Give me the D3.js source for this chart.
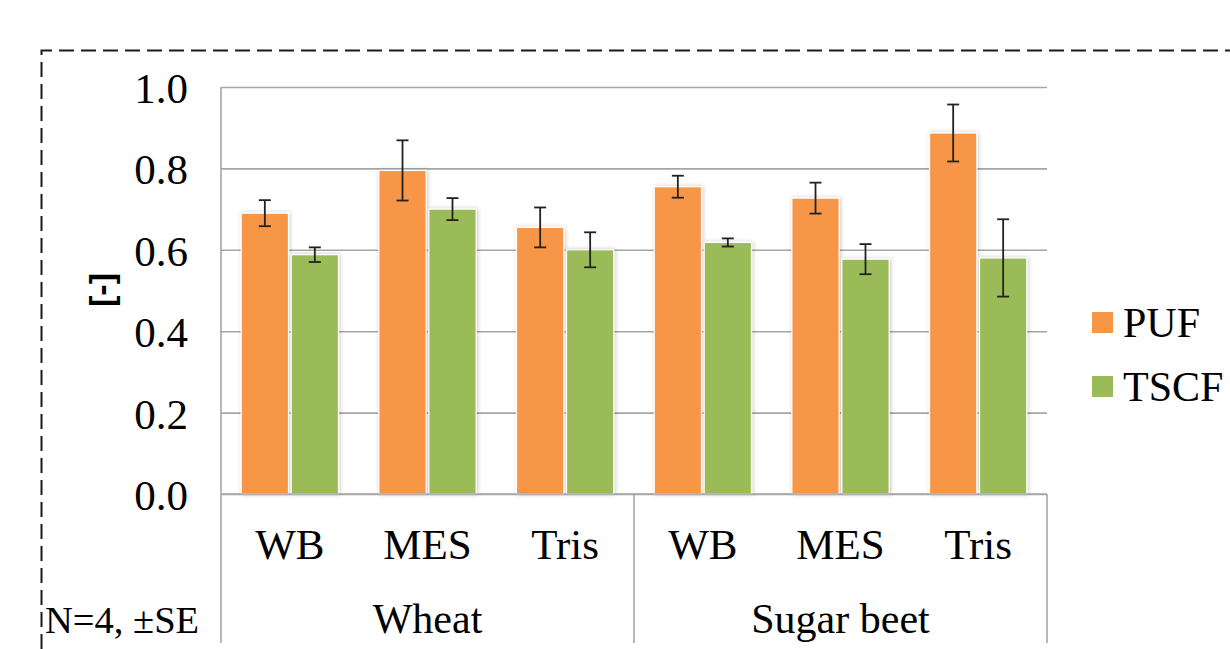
<!DOCTYPE html>
<html>
<head>
<meta charset="utf-8">
<script src="https://cdn.jsdelivr.net/npm/d3@7"></script>
<style>
  body { margin: 0; background: #fff; }
  svg { display: block; }
</style>
</head>
<body>
<svg id="chart" width="1230" height="649"></svg>
<script>
// chart data
var groups = ['Wheat', 'Sugar beet'];
var treatments = ['WB', 'MES', 'Tris'];
var seriesNames = ['PUF', 'TSCF'];
var seriesColors = ['#F79646', '#9BBB59'];
var pufValues = [0.690, 0.795, 0.655, 0.755, 0.727, 0.887];
var pufSE = [0.032, 0.074, 0.049, 0.027, 0.038, 0.070];
var tscfValues = [0.588, 0.700, 0.600, 0.618, 0.577, 0.580];
var tscfSE = [0.018, 0.027, 0.043, 0.010, 0.037, 0.095];
var yTicks = [0, 0.2, 0.4, 0.6, 0.8, 1.0];
var note = 'N=4, \u00B1SE';
var yTitle = '[-]';

var serif = "'Liberation Serif', 'Times New Roman', Times, 'DejaVu Serif', serif";

var svg = d3.select('#chart');
var plot = {left: 221, right: 1047, top: 87, bottom: 494, axisBottom: 643};

// one entry per (group, treatment) slot
var slots = [];
groups.forEach(function(g) {
  treatments.forEach(function(t) { slots.push(g + '|' + t); });
});

var x = d3.scaleBand().domain(slots).range([plot.left, plot.right]);
var xInner = d3.scaleBand().domain(seriesNames)
  .range([0, x.bandwidth()]).paddingInner(0.054).paddingOuter(0.404);
var y = d3.scaleLinear().domain([0, 1]).range([plot.bottom, plot.top]);
var color = d3.scaleOrdinal().domain(seriesNames).range(seriesColors);

var bars = [];
slots.forEach(function(s, i) {
  bars.push({slot: s, series: 'PUF', value: pufValues[i], se: pufSE[i]});
  bars.push({slot: s, series: 'TSCF', value: tscfValues[i], se: tscfSE[i]});
});

// soft shadow like the office chart
var defs = svg.append('defs');
var f = defs.append('filter').attr('id', 'shadow')
  .attr('x', '-20%').attr('y', '-20%').attr('width', '140%').attr('height', '140%');
f.append('feDropShadow').attr('dx', 1).attr('dy', 0).attr('stdDeviation', 2.2)
  .attr('flood-color', '#000').attr('flood-opacity', 0.22);

// dashed frame
svg.append('path')
  .attr('d', d3.line()([[41.5, 649], [41.5, 50.5], [1230, 50.5]]))
  .attr('fill', 'none').attr('stroke', '#1a1a1a')
  .attr('stroke-width', 2).attr('stroke-dasharray', '15 7');

// gridlines
var grid = svg.append('g')
  .attr('transform', 'translate(' + plot.left + ',0)')
  .call(d3.axisLeft(y).tickValues(yTicks).tickSize(-(plot.right - plot.left)).tickFormat(''));
grid.select('.domain').remove();
grid.selectAll('line').attr('stroke', '#a6a6a6').attr('stroke-width', 1.6);

// tick labels
var yAxis = svg.append('g')
  .attr('transform', 'translate(188,0)')
  .call(d3.axisLeft(y).tickValues(yTicks).tickSize(0).tickPadding(0).tickFormat(d3.format('.1f')));
yAxis.select('.domain').remove();
yAxis.attr('font-family', null).attr('font-size', null);
yAxis.selectAll('text')
  .style('font-family', serif)
  .style('font-size', '43px').attr('dy', '0.36em').attr('fill', '#000');

// bars
svg.append('g').selectAll('rect').data(bars).enter().append('rect')
  .attr('x', function(d) { return x(d.slot) + xInner(d.series); })
  .attr('y', function(d) { return y(d.value); })
  .attr('width', xInner.bandwidth())
  .attr('height', function(d) { return y(0) - y(d.value); })
  .attr('fill', function(d) { return color(d.series); })
  .attr('stroke', '#fff').attr('stroke-width', 1.2)
  .attr('filter', 'url(#shadow)');

// error bars
var err = svg.append('g').selectAll('g').data(bars).enter().append('g')
  .attr('transform', function(d) {
    return 'translate(' + (x(d.slot) + xInner(d.series) + xInner.bandwidth() / 2) + ',0)';
  })
  .attr('stroke', '#222').attr('stroke-width', 1.8);
err.append('line')
  .attr('y1', function(d) { return y(d.value + d.se); })
  .attr('y2', function(d) { return y(d.value - d.se); });
err.append('line').attr('x1', -6).attr('x2', 6)
  .attr('y1', function(d) { return y(d.value + d.se); })
  .attr('y2', function(d) { return y(d.value + d.se); });
err.append('line').attr('x1', -6).attr('x2', 6)
  .attr('y1', function(d) { return y(d.value - d.se); })
  .attr('y2', function(d) { return y(d.value - d.se); });

// category axis box
var axisColor = '#a6a6a6';
svg.append('line')
  .attr('x1', plot.left).attr('x2', plot.right)
  .attr('y1', plot.bottom).attr('y2', plot.bottom)
  .attr('stroke', axisColor).attr('stroke-width', 1.6);
var dividers = [plot.left, x(groups[1] + '|' + treatments[0]), plot.right];
svg.append('g').selectAll('line').data(dividers).enter().append('line')
  .attr('x1', function(d) { return d; }).attr('x2', function(d) { return d; })
  .attr('y1', function(d, i) { return i === 0 ? plot.top : plot.bottom; })
  .attr('y2', plot.axisBottom)
  .attr('stroke', axisColor).attr('stroke-width', 1.6);

// treatment labels
svg.append('g').selectAll('text').data(slots).enter().append('text')
  .attr('x', function(d) { return x(d) + x.bandwidth() / 2; })
  .attr('y', 559)
  .attr('text-anchor', 'middle')
  .style('font-family', serif).style('font-size', '43px')
  .text(function(d) { return d.split('|')[1]; });

// group labels
svg.append('g').selectAll('text').data(groups).enter().append('text')
  .attr('x', function(g) {
    return (x(g + '|' + treatments[0]) + x(g + '|' + treatments[2]) + x.bandwidth()) / 2;
  })
  .attr('y', 633)
  .attr('text-anchor', 'middle')
  .style('font-family', serif).style('font-size', '42px')
  .text(function(d) { return d; });

// note
svg.append('text').attr('x', 45).attr('y', 633)
  .style('font-family', serif).style('font-size', '38.5px')
  .text(note);

// y title
svg.append('text')
  .attr('transform', 'translate(113,290) rotate(-90)')
  .attr('text-anchor', 'middle')
  .style('font-family', "'Liberation Sans', Arial, sans-serif")
  .style('font-weight', 'bold').style('font-size', '34px')
  .text(yTitle);

// legend
var legend = svg.append('g').selectAll('g').data(seriesNames).enter().append('g')
  .attr('transform', function(d, i) { return 'translate(1092,' + (312 + i * 64) + ')'; });
legend.append('rect').attr('width', 21).attr('height', 21)
  .attr('fill', function(d) { return color(d); });
legend.append('text').attr('x', 31).attr('y', 25)
  .style('font-family', serif).style('font-size', '42px')
  .text(function(d) { return d; });
</script>
</body>
</html>
